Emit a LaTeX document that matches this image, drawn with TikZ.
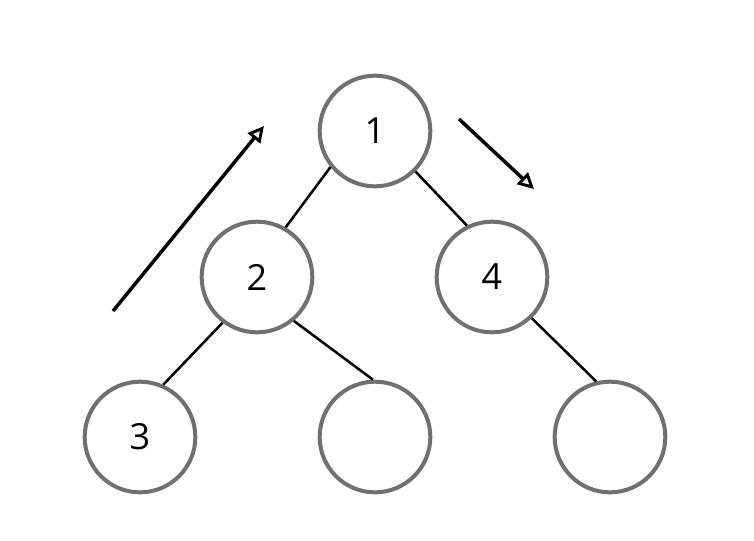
\documentclass[tikz,border=0pt]{standalone}
\usepackage{fontspec}
\setmainfont{Open Sans}
\usetikzlibrary{arrows.meta}
\definecolor{ringgray}{HTML}{707070}
\tikzset{
	vert/.style={circle,draw=ringgray,line width=3pt,minimum size=83pt,inner sep=0pt,font=\fontsize{27}{32}\selectfont},
	edge/.style={line width=1.9pt},
	dir/.style={line width=2.6pt,-{Triangle[open,length=12pt,width=12pt,line width=2.2pt]}}
}
\begin{document}
\begin{tikzpicture}[x=0.75pt,y=-0.75pt]
	\useasboundingbox (0,0) rectangle (754,540);
	\node[vert] (v1) at (375,131) {1};
	\node[vert] (v2) at (257,277) {2};
	\node[vert] (v4) at (492,277) {4};
	\node[vert] (v3) at (140,437) {3};
	\node[vert] (v5) at (375,437) {};
	\node[vert] (v6) at (610,437) {};
	\draw[edge] (v1.219) -- (v2.60);
	\draw[edge] (v1.-45) -- (v4.116);
	\draw[edge] (v2.233) -- (v3.66);
	\draw[edge] (v2.-50) -- (v5.92);
	\draw[edge] (v4.-46) -- (v6.104);
	\coordinate (up0) at (113,311);
	\coordinate (up1) at (264,126);
	\coordinate (dn0) at (459,119);
	\coordinate (dn1) at (534,189);
	\draw[dir] (up0) -- (up1);
	\draw[dir] (dn0) -- (dn1);
\end{tikzpicture}
\end{document}
